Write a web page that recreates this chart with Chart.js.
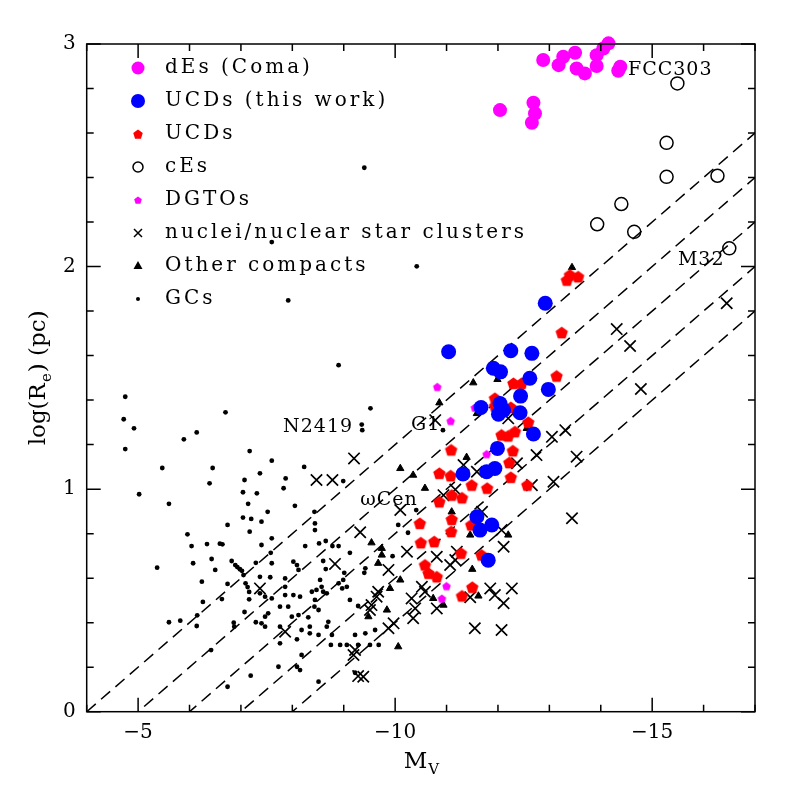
<!DOCTYPE html>
<html>
<head>
<meta charset="utf-8">
<script src="https://cdn.jsdelivr.net/npm/chart.js@4.4.0/dist/chart.umd.min.js"></script>
<style>
  html, body { margin: 0; padding: 0; background: #fff; }
  #wrap { width: 797px; height: 797px; }
</style>
</head>
<body>
<div id="wrap"><canvas id="sizeChart" width="797" height="797"></canvas></div>
<script>
// globular clusters
const gcMv = [-4.75,-4.72,-4.92,-4.75,-6.70,-5.89,-6.14,-5.47,-5.02,-6.45,
  -6.39,-5.60,-7.17,-7.37,-7.07,-7.04,-7.31,-7.14,-7.04,-7.20,
  -7.17,-6.74,-5.96,-6.04,-6.34,-6.59,-6.64,-6.07,-5.37,-6.43,
  -6.50,-6.82,-6.89,-6.93,-6.98,-7.02,-7.29,-7.05,-7.09,-7.13,
  -6.24,-6.74,-7.16,-7.16,-6.26,-6.63,-7.37,-7.07,-6.15,-5.60,
  -5.82,-6.14,-6.86,-6.87,-7.29,-6.42,-7.19,-6.74,
  -9.40,-7.60,-10.42,-7.92,-8.90,-9.52,-9.35,-9.36,-10.93,-7.60,-7.87,-8.23,-8.99,-10.41,
  -7.83,-8.05,-7.52,-7.40,-8.43,-8.44,-8.44,-7.60,-7.40,-7.58,
  -8.25,-8.52,-8.65,-8.78,-8.90,-9.12,-8.02,-8.09,-8.12,-7.60,
  -8.60,-8.65,-9.01,-9.42,-9.40,-7.37,-7.57,-7.86,-7.47,-7.60,
  -7.86,-8.54,-8.57,-8.60,-8.90,-8.97,-9.06,-8.99,-8.38,-8.47,
  -8.67,-7.86,-8.02,-8.15,-8.44,-8.43,-8.51,-9.12,-9.28,-7.76,
  -7.92,-7.53,-7.47,-7.40,-7.47,-7.99,-8.12,-8.31,-7.76,-7.76,
  -8.18,-8.34,-8.34,-8.51,-8.67,-8.70,-8.09,-8.77,-8.75,-8.93,
  -9.06,-9.22,-9.42,-9.61,-9.28,-9.51,-9.68,-8.18,-7.73,-8.09,
  -8.15,-9.22,-8.51,-10.25,-9.95,-10.06];
const gcLogR = [1.415,1.314,1.273,1.18,1.345,1.224,1.255,1.095,0.977,1.095,
  1.026,0.934,1.171,1.071,1.041,0.986,0.981,0.934,0.872,0.866,
  0.809,0.839,0.797,0.744,0.753,0.755,0.752,0.667,0.647,0.686,
  0.637,0.677,0.659,0.650,0.640,0.633,0.669,0.614,0.577,0.56,
  0.584,0.574,0.538,0.505,0.493,0.506,0.532,0.448,0.433,0.402,
  0.409,0.385,0.400,0.382,0.402,0.277,0.162,0.112,
  2.444,2.11,2.001,1.848,1.557,1.363,1.29,1.265,1.265,1.128,1.048,1.10,1.036,0.906,
  1.004,0.925,0.898,0.854,0.898,0.846,0.816,0.779,0.749,0.714,
  0.744,0.756,0.767,0.744,0.744,0.714,0.674,0.659,0.637,0.667,
  0.677,0.641,0.624,0.644,0.624,0.606,0.604,0.599,0.517,0.509,
  0.561,0.592,0.561,0.539,0.577,0.554,0.561,0.592,0.539,0.547,
  0.532,0.524,0.524,0.517,0.502,0.472,0.457,0.502,0.475,0.472,
  0.472,0.442,0.427,0.397,0.382,0.427,0.434,0.424,0.382,0.307,
  0.367,0.382,0.352,0.345,0.382,0.404,0.325,0.345,0.300,0.300,
  0.300,0.345,0.352,0.367,0.300,0.300,0.300,0.255,0.202,0.202,
  0.187,0.175,0.135,0.804,0.699,0.839];

// nuclei / nuclear star clusters
const nucMv = [-9.20,-8.47,-8.78,-9.32,-8.83,-7.37,-9.67,-9.64,-9.54,-9.51,
  -7.86,-9.22,-9.19,-9.28,-9.38,-10.78,-12.20,-13.05,-13.31,-12.75,
  -12.37,-11.33,-11.59,-13.08,-12.66,-11.17,-10.94,-10.10,-11.69,-10.23,
  -10.81,-11.20,-12.07,-12.11,-9.87,-10.52,-11.85,-11.94,-12.27,-12.11,
  -11.46,-10.32,-10.39,-10.81,-10.35,-9.97,-9.87,-11.55,-12.07,-11.07,
  -11.17,-14.31,-14.57,-14.78,-16.45,-13.53,-13.44,-10.58];
const nucLogR = [1.138,1.041,1.041,0.806,0.664,0.554,0.539,0.517,0.479,0.457,
  0.359,0.277,0.255,0.160,0.157,1.310,1.318,1.235,1.265,1.153,
  1.116,1.108,1.078,1.033,1.018,0.998,0.973,0.906,0.898,0.719,
  0.696,0.719,0.816,0.741,0.637,0.561,0.554,0.524,0.554,0.487,
  0.514,0.509,0.464,0.464,0.420,0.397,0.375,0.375,0.367,0.659,
  0.681,1.719,1.643,1.450,1.835,1.146,0.869,0.539];

// other compact objects
const otherMv = [-11.52,-11.99,-11.59,-11.39,-10.10,-10.58,-12.56,-11.10,-10.35,-10.86,
  -11.46,-12.20,-11.50,-9.67,-10.10,-9.90,-10.74,-11.62,-10.94,-9.84,
  -10.06,-9.74,-9.54,-9.74,-9.48,-13.44];
const otherLogR = [1.478,1.493,1.340,1.143,1.093,1.004,1.273,0.898,1.063,1.388,
  0.794,0.794,0.640,0.667,0.592,0.554,0.509,0.520,0.479,0.457,
  0.292,0.704,0.759,0.734,0.427,1.996];

// UCDs from the literature
const ucdMv = [-13.40,-13.34,-13.56,-13.24,-13.14,-12.59,-12.30,-12.46,-11.94,-11.94,
  -12.25,-12.07,-12.20,-12.33,-11.09,-12.29,-12.22,-10.86,-11.08,-11.49,
  -11.79,-12.25,-12.57,-11.10,-11.30,-10.86,-10.48,-11.10,-11.09,-11.48,
  -10.50,-10.76,-11.28,-11.68,-10.58,-10.65,-10.81,-11.50,-11.30];
const ucdLogR = [1.962,1.939,1.954,1.703,1.508,1.300,1.475,1.475,1.408,1.373,
  1.367,1.243,1.239,1.258,1.176,1.172,1.119,1.071,1.060,1.018,
  1.004,1.053,1.018,0.973,0.961,0.943,0.846,0.864,0.809,0.839,
  0.759,0.764,0.712,0.704,0.659,0.622,0.606,0.559,0.520];

// UCDs (this work)
const ucdNewMv = [-11.04,-12.25,-12.66,-11.91,-12.05,-12.62,-12.98,-12.44,-11.67,-12.04,
  -12.11,-12.01,-12.43,-12.69,-11.99,-11.32,-11.78,-11.94,-12.92,-11.59,
  -11.65,-11.88,-11.81];
const ucdNewLogR = [1.617,1.622,1.610,1.543,1.527,1.498,1.448,1.418,1.367,1.385,
  1.355,1.337,1.343,1.248,1.183,1.068,1.078,1.093,1.835,0.876,
  0.816,0.839,0.681];

const dgtoMv = [-10.82,-11.08,-11.78,-11.55,-11.00,-10.91];
const dgtoLogR = [1.460,1.307,1.158,1.367,0.565,0.509];

const ceMv = [-15.49,-15.28,-15.28,-16.27,-14.40,-13.93,-14.65,-16.50];
const ceLogR = [2.823,2.556,2.403,2.408,2.281,2.190,2.156,2.082];

// dEs in Coma
const deMv = [-12.88,-13.27,-13.18,-13.50,-13.53,-13.69,-13.92,-14.05,-14.15,-13.92,-14.38,-14.34,-12.04,-12.69,-12.72,-12.66];
const deLogR = [2.928,2.943,2.905,2.961,2.890,2.868,2.950,2.980,3.003,2.901,2.898,2.880,2.703,2.736,2.688,2.646];

// constant surface brightness lines: logR = -0.2 Mv - offset
const lineOffsets = [0.8, 1.0, 1.2, 1.4, 1.6];
const lineMv = [-4, -17];

const labelNames = ['FCC303', 'M32', 'N2419', 'G1', 'ωCen'];
const labelMv = [-14.53, -15.50, -7.82, -10.31, -9.32];
const labelLogR = [2.882, 2.029, 1.279, 1.288, 0.953];

const legendLabels = ['dEs (Coma)', 'UCDs (this work)', 'UCDs', 'cEs', 'DGTOs',
  'nuclei/nuclear star clusters', 'Other compacts', 'GCs'];

const xMin = -17, xMax = -4;
const yMin = 0, yMax = 3;

const serif = "'DejaVu Serif', 'Liberation Serif', serif";

function pts(xs, ys) {
  return xs.map((v, i) => ({ x: v, y: ys[i] }));
}

function pentagon(r, color) {
  const s = Math.ceil(r * 2 + 2);
  const c = document.createElement('canvas');
  c.width = s; c.height = s;
  const g = c.getContext('2d');
  g.fillStyle = color;
  g.beginPath();
  for (let k = 0; k < 5; k++) {
    const a = -Math.PI / 2 + k * 2 * Math.PI / 5;
    const px = s / 2 + r * Math.cos(a);
    const py = s / 2 + 0.6 + r * Math.sin(a);
    if (k === 0) g.moveTo(px, py); else g.lineTo(px, py);
  }
  g.closePath();
  g.fill();
  return c;
}

const redPent = pentagon(6.5, '#ff0000');
const magPent = pentagon(4.5, '#ff00ff');

const lineSets = lineOffsets.map(off => ({
  data: lineMv.map(m => ({ x: m, y: -0.2 * m - off })),
  showLine: true,
  borderColor: '#000',
  borderWidth: 1.5,
  borderDash: [12, 7],
  pointRadius: 0,
  fill: false
}));

function drawSymbol(ctx, i, x, y) {
  ctx.save();
  ctx.fillStyle = '#000';
  ctx.strokeStyle = '#000';
  ctx.beginPath();
  if (i === 0) {
    ctx.fillStyle = '#ff00ff';
    ctx.arc(x, y, 6.5, 0, Math.PI * 2); ctx.fill();
  } else if (i === 1) {
    ctx.fillStyle = '#0000ff';
    ctx.arc(x, y, 7, 0, Math.PI * 2); ctx.fill();
  } else if (i === 2) {
    const p = pentagon(5, '#ff0000');
    ctx.drawImage(p, x - p.width / 2, y - p.height / 2);
  } else if (i === 3) {
    ctx.lineWidth = 1.5;
    ctx.arc(x, y, 5, 0, Math.PI * 2); ctx.stroke();
  } else if (i === 4) {
    const p = pentagon(4, '#ff00ff');
    ctx.drawImage(p, x - p.width / 2, y - p.height / 2);
  } else if (i === 5) {
    ctx.lineWidth = 1.5;
    ctx.moveTo(x - 4, y - 4); ctx.lineTo(x + 4, y + 4);
    ctx.moveTo(x + 4, y - 4); ctx.lineTo(x - 4, y + 4);
    ctx.stroke();
  } else if (i === 6) {
    ctx.moveTo(x, y - 5); ctx.lineTo(x + 4.5, y + 3); ctx.lineTo(x - 4.5, y + 3);
    ctx.closePath(); ctx.fill();
  } else {
    ctx.arc(x, y, 2, 0, Math.PI * 2); ctx.fill();
  }
  ctx.restore();
}

const decorations = {
  id: 'decorations',
  afterDraw(chart) {
    const { ctx, chartArea: a, scales: { x, y } } = chart;
    ctx.save();
    // frame and inward ticks on all four sides
    ctx.strokeStyle = '#000';
    ctx.lineWidth = 1.5;
    ctx.strokeRect(a.left, a.top, a.right - a.left, a.bottom - a.top);
    ctx.beginPath();
    for (let v = xMin; v <= xMax; v++) {
      const len = v % 5 === 0 ? 14 : 7;
      const px = x.getPixelForValue(v);
      ctx.moveTo(px, a.bottom); ctx.lineTo(px, a.bottom - len);
      ctx.moveTo(px, a.top); ctx.lineTo(px, a.top + len);
    }
    for (let i = 0; i <= 15; i++) {
      const len = i % 5 === 0 ? 14 : 7;
      const py = y.getPixelForValue(i * 0.2);
      ctx.moveTo(a.left, py); ctx.lineTo(a.left + len, py);
      ctx.moveTo(a.right, py); ctx.lineTo(a.right - len, py);
    }
    ctx.stroke();

    // legend
    ctx.fillStyle = '#000';
    ctx.textBaseline = 'middle';
    ctx.textAlign = 'left';
    ctx.font = '20px ' + serif;
    ctx.letterSpacing = '3px';
    legendLabels.forEach((t, i) => {
      const ly = 68 + i * 33;
      drawSymbol(ctx, i, 138, ly);
      ctx.fillText(t, 165, ly);
    });

    // object labels
    ctx.letterSpacing = '1px';
    ctx.font = '19px ' + serif;
    labelNames.forEach((t, i) => {
      ctx.fillText(t, x.getPixelForValue(labelMv[i]), y.getPixelForValue(labelLogR[i]));
    });
    ctx.letterSpacing = '0px';

    // x axis title: M_V
    ctx.textBaseline = 'alphabetic';
    ctx.font = '23px ' + serif;
    const mW = ctx.measureText('M').width;
    ctx.font = '15px ' + serif;
    const vW = ctx.measureText('V').width;
    const cx = (a.left + a.right) / 2;
    const x0 = cx - (mW + vW) / 2;
    ctx.font = '23px ' + serif;
    ctx.fillText('M', x0, 768);
    ctx.font = '15px ' + serif;
    ctx.fillText('V', x0 + mW + 1, 774);

    // y axis title: log(R_e) (pc)
    ctx.translate(45, (a.top + a.bottom) / 2);
    ctx.rotate(-Math.PI / 2);
    ctx.font = '23px ' + serif;
    const p1 = 'log(R', p3 = ') (pc)';
    const w1 = ctx.measureText(p1).width, w3 = ctx.measureText(p3).width;
    ctx.font = '15px ' + serif;
    const w2 = ctx.measureText('e').width;
    let tx = -(w1 + w2 + w3 + 2) / 2;
    ctx.font = '23px ' + serif;
    ctx.fillText(p1, tx, 0);
    tx += w1 + 1;
    ctx.font = '15px ' + serif;
    ctx.fillText('e', tx, 6);
    tx += w2 + 1;
    ctx.font = '23px ' + serif;
    ctx.fillText(p3, tx, 0);
    ctx.restore();
  }
};

new Chart(document.getElementById('sizeChart'), {
  type: 'scatter',
  data: {
    datasets: [
      { label: 'dEs (Coma)', data: pts(deMv, deLogR), pointStyle: 'circle', pointRadius: 7,
        backgroundColor: '#ff00ff', borderColor: '#ff00ff', borderWidth: 0, clip: false },
      { label: 'UCDs (this work)', data: pts(ucdNewMv, ucdNewLogR), pointStyle: 'circle', pointRadius: 7.5,
        backgroundColor: '#0000ff', borderColor: '#0000ff', borderWidth: 0 },
      { label: 'DGTOs', data: pts(dgtoMv, dgtoLogR), pointStyle: magPent, pointRadius: 5 },
      { label: 'UCDs', data: pts(ucdMv, ucdLogR), pointStyle: redPent, pointRadius: 6 },
      { label: 'cEs', data: pts(ceMv, ceLogR), pointStyle: 'circle', pointRadius: 6.5,
        backgroundColor: 'rgba(0,0,0,0)', borderColor: '#000', borderWidth: 1.5 },
      { label: 'Other compacts', data: pts(otherMv, otherLogR), pointStyle: 'triangle', pointRadius: 4.2,
        backgroundColor: '#000', borderColor: '#000', borderWidth: 1 },
      { label: 'nuclei/nuclear star clusters', data: pts(nucMv, nucLogR), pointStyle: 'crossRot', pointRadius: 8,
        borderColor: '#000', borderWidth: 1.7 },
      { label: 'GCs', data: pts(gcMv, gcLogR), pointStyle: 'circle', pointRadius: 2.4,
        backgroundColor: '#000', borderColor: '#000', borderWidth: 0 },
      ...lineSets
    ]
  },
  options: {
    responsive: false,
    devicePixelRatio: 1,
    animation: false,
    events: [],
    layout: { padding: { top: 44, right: 42, left: 0, bottom: 0 } },
    plugins: { legend: { display: false }, tooltip: { enabled: false } },
    scales: {
      x: {
        type: 'linear', min: xMin, max: xMax, reverse: true,
        grid: { display: false, drawTicks: false },
        border: { display: false },
        afterFit: s => { s.height = 85.3; },
        ticks: {
          stepSize: 1, autoSkip: false, maxRotation: 0, padding: 9, color: '#000',
          font: { family: serif, size: 20 },
          callback: v => (v % 5 === 0 ? '\u2212' + Math.abs(v) : '')
        }
      },
      y: {
        type: 'linear', min: yMin, max: yMax,
        grid: { display: false, drawTicks: false },
        border: { display: false },
        afterFit: s => { s.width = 86.7; },
        ticks: {
          stepSize: 1, padding: 11, color: '#000',
          font: { family: serif, size: 20 }
        }
      }
    }
  },
  plugins: [decorations]
});
</script>
</body>
</html>
